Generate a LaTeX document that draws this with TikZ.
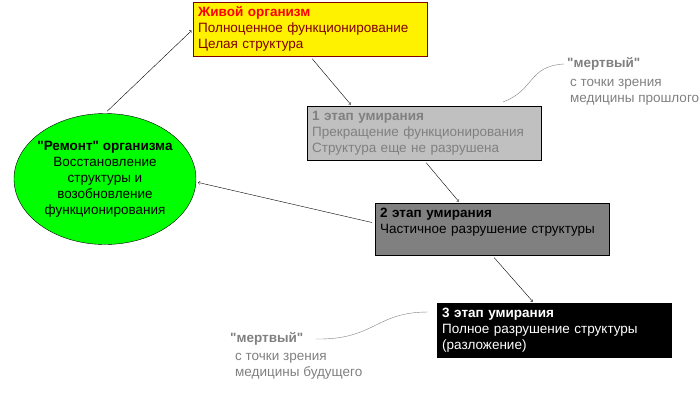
\documentclass[tikz,border=0pt]{standalone}
\usepackage{fontspec}
\setmainfont{Liberation Sans}[Ligatures=TeXOff]
\usetikzlibrary{arrows,positioning,shapes.geometric}
\definecolor{maroon}{HTML}{800000}
\definecolor{silver}{HTML}{C0C0C0}
\definecolor{midgray}{HTML}{808080}
\definecolor{lime}{HTML}{00FF00}

\begin{document}
\begin{tikzpicture}[x=1pt,y=-1pt,font=\fontsize{13.5}{16}\selectfont,
    stagebox/.style={draw,rectangle,anchor=north west,align=left,inner xsep=5pt,inner ysep=3pt,
      minimum width=234pt,text width=224pt},
    arr/.style={->,thin,shorten <=3pt,shorten >=2pt},
    note/.style={midgray,anchor=west,align=left,inner sep=0pt},
    wire/.style={midgray,thin}]
  \useasboundingbox (0,0) rectangle (700,400);
  % boxes
  \node[stagebox,fill=yellow,draw=maroon,text=maroon,minimum height=54pt] (alive) at (193,2)
    {\textcolor{red}{\textbf{Живой организм}}\\Полноценное функционирование\\Целая структура};
  \node[stagebox,fill=silver,text=midgray,minimum height=54pt] (stage1) at (307,106)
    {\textbf{1 этап умирания}\\Прекращение функционирования\\Структура еще не разрушена};
  \node[stagebox,fill=midgray,text=black,minimum height=52pt] (stage2) at (375,203)
    {\textbf{2 этап умирания}\\Частичное разрушение структуры\\\mbox{}};
  \node[stagebox,fill=black,text=white,minimum height=54pt] (stage3) at (437,303)
    {\textbf{3 этап умирания}\\Полное разрушение структуры\\(разложение)};
  \node[draw,ellipse,fill=lime,minimum width=182pt,minimum height=131pt,align=center,
    inner xsep=-12pt,inner ysep=-4pt] (remont) at (105,179)
    {\textbf{"Ремонт" организма}\\Восстановление\\структуры и\\возобновление\\функционирования};
  % arrows
  \draw[arr] (remont.north) -- (alive.west);
  \draw[arr] (alive.south) -- ([xshift=45pt]stage1.north west);
  \draw[arr] (stage1.south) -- ([xshift=85pt]stage2.north west);
  \draw[arr] ([yshift=6pt]stage2.west) -- ([yshift=-3pt]remont.east);
  \draw[arr] (stage2.south) -- ([xshift=97pt]stage3.north west);
  % notes
  \node[note,font=\fontsize{13.5}{16}\selectfont\bfseries] (dead1) at (567,64) {"мертвый"};
  \node[note,anchor=north west] (past) at (570,79) {с точки зрения\\медицины прошлого};
  \node[note,font=\fontsize{13.5}{16}\selectfont\bfseries] (dead2) at (230,339) {"мертвый"};
  \node[note,anchor=north west] (future) at (235,353) {с точки зрения\\медицины будущего};
  \coordinate (c1) at (503,102);
  \coordinate (c2) at (428,312);
  \draw[wire] (c1) .. controls (535,90) and (528,66) .. ([xshift=-3pt]dead1.west);
  \draw[wire] ([xshift=12pt]dead2.east) .. controls (375,340) and (375,312) .. (c2);
\end{tikzpicture}
\end{document}
